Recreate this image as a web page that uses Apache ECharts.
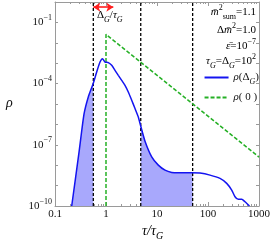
<!DOCTYPE html>
<html><head><meta charset="utf-8">
<script src="https://cdn.jsdelivr.net/npm/echarts@6/dist/echarts.min.js"></script>
<style>html,body{margin:0;padding:0;background:#fff}#c{width:273px;height:245px}</style>
</head><body><div id="c"></div>
<script>
// rho(Delta_G) curve
const tauDelta = [0.2126,0.2996,0.3703,0.4496,0.5637,0.6571,0.7627,0.8538,0.9559,1.1095,1.2933,1.5014,1.7427,2.0317,2.3584,2.7369,3.1915,3.7041,4.2989,4.749,5.8184,7.873,10.605,14.35,19.42,26.16,47.9,69.7,109.5,171.9,232.6,291.5,338.3,392.8,458.1,531.6,651];
const rhoDelta = [1.0e-10,5.47e-8,3.16e-6,2.21e-5,1.04e-4,3.71e-4,1.14e-3,1.67e-3,1.14e-3,1.07e-3,7.87e-4,4.49e-4,2.55e-4,1.45e-4,8.28e-5,3.89e-5,1.53e-5,6.0e-6,2.33e-6,9.1e-7,1.51e-7,2.57e-8,1.01e-8,5.75e-9,4.44e-9,4.24e-9,4.24e-9,4.10e-9,3.27e-9,2.25e-9,1.29e-9,6.04e-10,2.84e-10,2.12e-10,2.12e-10,1.61e-10,1.0e-10];
// rho(0) curve
const tauZero = [1, 1, 1000];
const rhoZero = [1e-10, 0.026, 2.5e-8];
// vertical reference lines
const blackLinesTau = [0.564, 4.8, 50];
// shaded intervals
const shadeRanges = [[0.2126, 0.564], [4.8, 50]];
// arrow Delta_G/tau_G
const arrowTau = [0.564, 1.39];
const arrowRho = 0.56;
// axis
const xTicks = [0.1, 1, 10, 100, 1000];
const yLabelExps = [-10, -7, -4, -1];

const FONT = '"Liberation Serif","DejaVu Serif",serif';
const BLUE = '#1414f0', GREEN = '#25b025', FILL = '#a8a8fc', RED = '#ff2020';
const SMOOTH = 0.2;

function interpLog(t) {
  const lt = Math.log10(t);
  for (let i = 0; i < tauDelta.length - 1; i++) {
    const a = Math.log10(tauDelta[i]), b = Math.log10(tauDelta[i+1]);
    if (lt >= a && lt <= b) {
      const f = (lt - a) / (b - a);
      return Math.pow(10, Math.log10(rhoDelta[i]) * (1-f) + Math.log10(rhoDelta[i+1]) * f);
    }
  }
  return null;
}
function shadeData(r) {
  const d = [[r[0], interpLog(r[0])]];
  tauDelta.forEach((t, i) => { if (t > r[0] && t < r[1]) d.push([t, rhoDelta[i]]); });
  d.push([r[1], interpLog(r[1])]);
  return d;
}

const rich = {
  n: {fontFamily: FONT, fontSize: 11, color: '#111', lineHeight: 17},
  i: {fontFamily: FONT, fontSize: 11, fontStyle: 'italic', color: '#111', lineHeight: 17},
  sup: {fontFamily: FONT, fontSize: 8, color: '#111', verticalAlign: 'top', lineHeight: 9},
  sub: {fontFamily: FONT, fontSize: 8, color: '#111', verticalAlign: 'bottom', lineHeight: 9},
  subi: {fontFamily: FONT, fontSize: 8, fontStyle: 'italic', color: '#111', verticalAlign: 'bottom', lineHeight: 9}
};
const redRich = {
  n: {fontFamily: FONT, fontSize: 11, color: RED, lineHeight: 17},
  i: {fontFamily: FONT, fontSize: 11, fontStyle: 'italic', color: RED, lineHeight: 17},
  subi: {fontFamily: FONT, fontSize: 8, fontStyle: 'italic', color: RED, verticalAlign: 'bottom', lineHeight: 9}
};

const axisGray = '#9a9a9a';

const series = [];
shadeRanges.forEach(r => series.push({
  type: 'line', data: shadeData(r), showSymbol: false, symbol: 'none', smooth: SMOOTH,
  lineStyle: {width: 0}, areaStyle: {color: FILL, opacity: 1, origin: 'start'}, silent: true, z: 1
}));
blackLinesTau.forEach((t, k) => series.push({
  type: 'line', data: [[t, 1e-10], [t, 1]], showSymbol: false, symbol: 'none',
  lineStyle: {color: '#000', width: 1.3, type: [3, 2]}, silent: true, z: 2,
  markLine: k === 0 ? {
    silent: true, symbol: ['arrow', 'arrow'], symbolSize: [7, 7],
    lineStyle: {color: RED, width: 1.6, type: 'solid'}, label: {show: false},
    data: [[{coord: [arrowTau[0], arrowRho]}, {coord: [arrowTau[1], arrowRho]}]]
  } : undefined
}));
series.push({
  name: 'rhoD', type: 'line', data: tauDelta.map((t, i) => [t, rhoDelta[i]]),
  showSymbol: false, symbol: 'none', smooth: SMOOTH,
  lineStyle: {color: BLUE, width: 1.5}, itemStyle: {color: BLUE}, z: 4
});
series.push({
  name: 'rho0', type: 'line', data: tauZero.map((t, i) => [t, rhoZero[i]]),
  showSymbol: false, symbol: 'none',
  lineStyle: {color: GREEN, width: 1.5, type: [4, 2]}, itemStyle: {color: GREEN}, z: 3
});

function xAxisCfg(pos, labels) {
  return {
    type: 'log', logBase: 10, min: 0.1, max: 1000, position: pos, interval: 1,
    axisLine: {show: true, lineStyle: {color: axisGray, width: 1}},
    axisTick: {show: true, inside: true, length: 4, lineStyle: {color: axisGray}},
    minorTick: {show: true, splitNumber: 9, length: 2, lineStyle: {color: axisGray}},
    splitLine: {show: false},
    axisLabel: {show: labels, margin: 3, fontFamily: FONT, fontSize: 11, color: '#111',
      formatter: v => { const m = xTicks.find(x => Math.abs(x - v) / x < 1e-6); return m === undefined ? '' : String(m); }}
  };
}
function yAxisCfg(pos, labels) {
  return {
    type: 'log', logBase: 10, min: 1e-10, max: 1, position: pos, interval: 1,
    axisLine: {show: true, lineStyle: {color: axisGray, width: 1}},
    axisTick: {show: true, inside: true, length: 3, lineStyle: {color: axisGray}},
    splitLine: {show: false},
    axisLabel: {show: labels, margin: 3, fontFamily: FONT, fontSize: 11, color: '#111', rich: rich,
      formatter: v => { const e = Math.round(Math.log10(v)); return yLabelExps.includes(e) ? '{n|10}{sup|' + String(e).replace('-', '\u2212') + '}' : ''; }}
  };
}

const chart = echarts.init(document.getElementById('c'), null, {renderer: 'canvas'});
chart.setOption({
  animation: false,
  backgroundColor: '#fff',
  grid: {left: 55, right: 14, top: 2, bottom: 39, containLabel: false},
  xAxis: [xAxisCfg('bottom', true), xAxisCfg('top', false)],
  yAxis: [yAxisCfg('left', true), yAxisCfg('right', false)],
  legend: {
    orient: 'vertical', right: 14, top: 72, padding: 0, itemGap: 6, itemWidth: 24, itemHeight: 12,
    data: ['rhoD', 'rho0'], itemStyle: {opacity: 0},
    formatter: n => n === 'rhoD' ? '{i|\u03c1}{n|(\u0394}{subi|G}{n|)}' : '{i|\u03c1}{n|( 0 )}',
    textStyle: {rich: rich, fontFamily: FONT, fontSize: 11, color: '#111'}
  },
  graphic: [
    {type: 'text', left: 6, top: 96, style: {text: '\u03c1', font: 'italic 14px ' + FONT, fill: '#111'}},
    {type: 'text', left: 142, top: 224, style: {text: '{i|\u03c4/\u03c4}{subi|G}', rich: {
      i: {fontFamily: FONT, fontSize: 14, fontStyle: 'italic', color: '#111', lineHeight: 20},
      subi: {fontFamily: FONT, fontSize: 10, fontStyle: 'italic', color: '#111', verticalAlign: 'bottom', lineHeight: 11}}}},
    {type: 'text', left: 97, top: 10, style: {text: '{n|\u0394}{subi|G}{n|/}{i|\u03c4}{subi|G}', rich: redRich}},
    {type: 'text', right: 17, top: 4, style: {text: '{i|m\u0304}{sup|2}{sub|sum}{n|=1.1}', rich: rich}},
    {type: 'text', right: 17, top: 22, style: {text: '{n|\u0394}{i|m\u0304}{sup|2}{n|=1.0}', rich: rich}},
    {type: 'text', right: 17, top: 38, style: {text: '{i|\u03b5\u0304}{n|=10}{sup|\u22127}', rich: rich}},
    {type: 'text', right: 17, top: 53, style: {text: '{i|\u03c4}{subi|G}{n|=\u0394}{subi|G}{n|=10}{sup|2}', rich: rich}}
  ],
  series: series
});
</script></body></html>
